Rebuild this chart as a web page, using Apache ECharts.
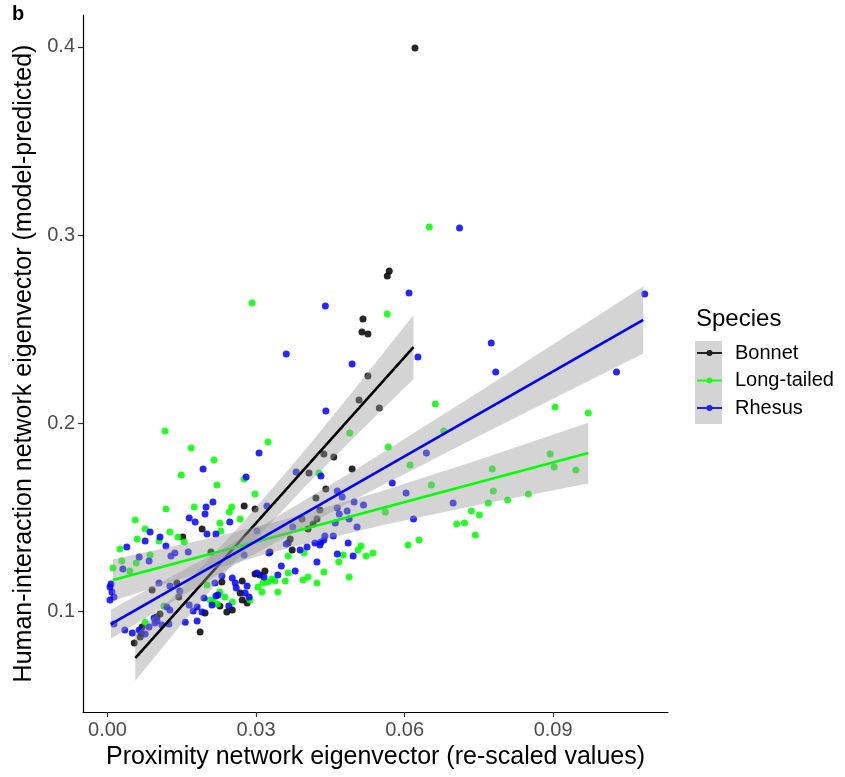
<!DOCTYPE html>
<html><head><meta charset="utf-8">
<script src="https://cdn.jsdelivr.net/npm/echarts@6/dist/echarts.min.js"></script>
<style>html,body{margin:0;padding:0;background:#fff}#c{width:845px;height:777px}</style>
</head><body><div id="c"></div><script>
// ---------- data ----------
const species = ['Bonnet', 'Long-tailed', 'Rhesus'];
const xTicks = [0, 0.03, 0.06, 0.09];
const xTickLabels = ['0.00', '0.03', '0.06', '0.09'];
const yTicks = [0.1, 0.2, 0.3, 0.4];
const yTickLabels = ['0.1', '0.2', '0.3', '0.4'];

const bonnetPts = [
[0.0621,0.3995],[0.0569,0.2809],[0.0565,0.2782],[0.0516,0.2553],[0.0514,0.2484],[0.0526,0.2473],[0.0526,0.2250],[0.0508,0.2122],[0.0549,0.2080],[0.0437,0.1835],[0.0457,0.1819],[0.0494,0.1755],[0.0407,0.1734],[0.0441,0.1649],[0.0421,0.1601],[0.0429,0.1537],[0.0423,0.1489],[0.0415,0.1463],[0.0405,0.1436],[0.0393,0.1489],[0.0276,0.1559],[0.0298,0.1543],[0.0191,0.1436],[0.0152,0.1394],[0.0209,0.1314],[0.0328,0.1314],[0.0365,0.1362],[0.0369,0.1383],[0.0373,0.1324],[0.0318,0.1213],[0.0298,0.1197],[0.0272,0.1160],[0.0231,0.1154],[0.0268,0.1096],[0.0282,0.1043],[0.0272,0.1059],[0.0252,0.1005],[0.0241,0.0995],[0.0227,0.1027],[0.0197,0.0989],[0.0187,0.0888],[0.0308,0.1191],[0.0140,0.1149],[0.0090,0.1112],[0.0144,0.1074],[0.0106,0.0984],[0.0100,0.0968],[0.0070,0.0915],[0.0068,0.0883],[0.0054,0.0830],[0.0066,0.0862]
];
const longPts = [
[0.0650,0.3043],[0.0292,0.2638],[0.0565,0.2580],[0.0116,0.1957],[0.0169,0.1867],[0.0215,0.1803],[0.0324,0.1899],[0.0149,0.1723],[0.0489,0.1947],[0.0567,0.1872],[0.0427,0.1734],[0.0276,0.1702],[0.0221,0.1670],[0.0298,0.1622],[0.0662,0.2101],[0.0904,0.2085],[0.0971,0.2053],[0.0679,0.1957],[0.0611,0.1777],[0.0777,0.1755],[0.0894,0.1835],[0.0902,0.1766],[0.0946,0.1750],[0.0654,0.1670],[0.0779,0.1638],[0.0850,0.1622],[0.0808,0.1590],[0.0769,0.1574],[0.0561,0.1527],[0.0735,0.1532],[0.0751,0.1511],[0.0705,0.1463],[0.0721,0.1468],[0.0743,0.1404],[0.0629,0.1378],[0.0607,0.1351],
[0.0118,0.1543],[0.0175,0.1553],[0.0251,0.1553],[0.0246,0.1527],[0.0056,0.1484],[0.0227,0.1468],[0.0268,0.1489],[0.0076,0.1436],[0.0229,0.1426],[0.0126,0.1420],[0.0060,0.1383],[0.0104,0.1372],[0.0142,0.1394],[0.0155,0.1367],[0.0025,0.1330],[0.0086,0.1298],[0.0029,0.1266],[0.0058,0.1255],[0.0011,0.1229],[0.0045,0.1213],[0.0076,0.0941],[0.0114,0.1027],[0.0237,0.1074],[0.0207,0.1059],
[0.0365,0.1293],[0.0397,0.1309],[0.0476,0.1298],[0.0522,0.1293],[0.0536,0.1309],[0.0506,0.1324],[0.0512,0.1346],[0.0467,0.1261],[0.0437,0.1207],[0.0405,0.1181],[0.0395,0.1165],[0.0423,0.1149],[0.0488,0.1181],[0.0365,0.1202],[0.0359,0.1160],[0.0344,0.1101],[0.0332,0.1170],[0.0324,0.1154],[0.0314,0.1149],[0.0304,0.1128],[0.0312,0.1101],[0.0288,0.1059],[0.0252,0.1048],[0.0227,0.1101],[0.0213,0.1048],[0.0201,0.1138],[0.0338,0.1160],[0.0222,0.1037]
];
const rhesusPts = [
[0.1085,0.2686],[0.0711,0.3037],[0.0609,0.2691],[0.0775,0.2426],[0.0627,0.2351],[0.0440,0.2622],[0.0361,0.2367],[0.0494,0.2314],[0.0784,0.2271],[0.1028,0.2271],[0.0441,0.2064],[0.0644,0.1840],[0.0575,0.1681],[0.0603,0.1628],[0.0698,0.1574],[0.0618,0.1489],[0.0306,0.1840],[0.0193,0.1755],[0.0280,0.1713],[0.0381,0.1739],[0.0431,0.1718],[0.0322,0.1559],[0.0302,0.1426],[0.0464,0.1638],[0.0474,0.1606],[0.0464,0.1548],[0.0484,0.1532],[0.0498,0.1580],[0.0517,0.1564],[0.0468,0.1516],[0.0488,0.1489],[0.0504,0.1447],[0.0460,0.1468],[0.0456,0.1399],[0.0439,0.1399],[0.0431,0.1367],[0.0419,0.1362],[0.0403,0.1340],[0.0486,0.1362],[0.0374,0.1447],
[0.0213,0.1580],[0.0199,0.1553],[0.0197,0.1516],[0.0165,0.1495],[0.0177,0.1473],[0.0247,0.1473],[0.0086,0.1420],[0.0106,0.1394],[0.0201,0.1410],[0.0219,0.1410],[0.0076,0.1372],[0.0118,0.1346],[0.0039,0.1340],[0.0064,0.1287],[0.0136,0.1309],[0.0128,0.1293],[0.0163,0.1314],[0.0084,0.1266],[0.0031,0.1223],[0.0276,0.1298],
[0.0005,0.1128],[0.0009,0.1101],[0.0013,0.1074],[0.0005,0.1059],[0.0007,0.1144],[0.0104,0.1149],[0.0146,0.1106],[0.0126,0.1133],[0.0252,0.1176],[0.0258,0.1149],[0.0260,0.1122],[0.0282,0.1133],[0.0278,0.1096],[0.0286,0.1074],[0.0316,0.1181],[0.0223,0.1085],[0.0165,0.1032],[0.0181,0.1021],[0.0191,0.0995],[0.0173,0.1000],[0.0120,0.1021],[0.0126,0.1005],[0.0094,0.0963],[0.0100,0.0947],[0.0035,0.0899],[0.0050,0.0883],[0.0064,0.0899],[0.0076,0.0878],[0.0013,0.0931],[0.0084,0.0915],[0.0096,0.0936],[0.0110,0.0926],[0.0124,0.0931],[0.0157,0.0941],[0.0181,0.0947],
[0.0361,0.1356],[0.0389,0.1324],[0.0429,0.1351],[0.0437,0.1378],[0.0464,0.1303],[0.0496,0.1293],[0.0423,0.1261],[0.0379,0.1213],[0.0351,0.1239],[0.0344,0.1191],[0.0302,0.1202],[0.0326,0.1309],[0.0231,0.1186],[0.0217,0.1149],[0.0219,0.1080],[0.0211,0.1032],[0.0195,0.1069],[0.0245,0.1027]
];

// fitted lines (endpoints)
const bonnetFit = [[0.0056,0.0750],[0.0618,0.2404]];
const longFit = [[0.0011,0.1165],[0.0971,0.1840]];
const rhesusFit = [[0.0007,0.0931],[0.1082,0.2548]];

// confidence ribbons: [x, lower, upper]
const bonnetBand = [[0.0056,0.0628,0.0872],[0.015,0.0932,0.1122],[0.027,0.1300,0.1460],[0.040,0.1665,0.1859],[0.050,0.1930,0.2184],[0.0618,0.2234,0.2574]];
const longBand = [[0.0011,0.1055,0.1275],[0.020,0.1213,0.1383],[0.035,0.1325,0.1481],[0.055,0.1454,0.1634],[0.075,0.1565,0.1805],[0.0971,0.1678,0.2002]];
const rhesusBand = [[0.0007,0.0854,0.1008],[0.025,0.1236,0.1356],[0.050,0.1594,0.1750],[0.075,0.1931,0.2165],[0.1082,0.2370,0.2726]];

// ---------- chart ----------
const FONT = 'Liberation Sans, Arial, sans-serif';
const colors = ['#000000', '#00ff00', '#0000ff'];
const pts = [bonnetPts, longPts, rhesusPts];
const fits = [bonnetFit, longFit, rhesusFit];
const bands = [bonnetBand, longBand, rhesusBand];

function bandSeries(name, band, z) {
  return {
    type: 'custom', name: name, z: z, silent: true,
    data: band,
    encode: { x: 0, y: [1, 2] },
    renderItem: function (params, api) {
      if (params.dataIndex !== 0) return null;
      const p = [];
      for (let i = 0; i < band.length; i++) p.push(api.coord([band[i][0], band[i][2]]));
      for (let i = band.length - 1; i >= 0; i--) p.push(api.coord([band[i][0], band[i][1]]));
      return { type: 'polygon', shape: { points: p }, style: { fill: 'rgba(153,153,153,0.42)' } };
    }
  };
}

const series = [];
species.forEach(function (s, i) {
  series.push({
    type: 'scatter', name: s, data: pts[i], symbolSize: 7, z: 2, silent: true,
    itemStyle: { color: colors[i], opacity: 0.85 }
  });
});
species.forEach(function (s, i) {
  series.push(bandSeries(s, bands[i], 3 + i * 2));
  series.push({
    type: 'line', name: s, data: fits[i], showSymbol: false, z: 4 + i * 2, silent: true,
    lineStyle: { color: colors[i], width: 2.6 }, itemStyle: { color: colors[i] }
  });
});

const keyIcon = 'path://M0,2 L25,2 L25,4 L0,4 Z M9.5,3 A3,3 0 1 1 15.5,3 A3,3 0 1 1 9.5,3 Z';

const chart = echarts.init(document.getElementById('c'), null, { renderer: 'canvas' });
chart.setOption({
  animation: false,
  backgroundColor: '#ffffff',
  textStyle: { fontFamily: FONT },
  title: [
    { text: 'b', left: 12, top: 4, padding: 0, textStyle: { fontSize: 20, fontWeight: 'bold', color: '#000', fontFamily: FONT } },
    { text: 'Species', left: 696, top: 307, padding: 0, textStyle: { fontSize: 24, fontWeight: 'normal', color: '#000', fontFamily: FONT } }
  ],
  graphic: [
    { type: 'rect', left: 695, top: 341, shape: { width: 27, height: 83 }, style: { fill: '#d4d4d4' }, z: 1 }
  ],
  legend: {
    show: true, orient: 'vertical', left: 697, top: 343, padding: 0,
    itemWidth: 25, itemHeight: 6, itemGap: 7.5, selectedMode: false,
    data: species.map(function (s, i) { return { name: s, icon: keyIcon, itemStyle: { color: colors[i] } }; }),
    textStyle: { fontSize: 20, color: '#000', fontFamily: FONT, lineHeight: 20, padding: [0, 0, 0, 8] }
  },
  grid: { left: 83, right: 177, top: 15, bottom: 65, containLabel: false },
  xAxis: {
    type: 'value', min: -0.00495, max: 0.1132,
    name: 'Proximity network eigenvector (re-scaled values)',
    nameLocation: 'middle', nameGap: 32,
    nameTextStyle: { fontSize: 25, color: '#000', fontFamily: FONT },
    axisLine: { show: true, onZero: false, lineStyle: { color: '#000', width: 1.2 } },
    axisTick: { show: true, length: 5, customValues: xTicks, lineStyle: { color: '#333', width: 1.2 } },
    axisLabel: {
      customValues: xTicks, fontSize: 20, color: '#4d4d4d', margin: 8, fontFamily: FONT,
      formatter: function (v) { let k = 0; xTicks.forEach(function (t, j) { if (Math.abs(t - v) < Math.abs(xTicks[k] - v)) k = j; }); return xTickLabels[k]; }
    },
    splitLine: { show: false }
  },
  yAxis: {
    type: 'value', min: 0.0463, max: 0.417,
    name: 'Human-interaction network eigenvector (model-predicted)',
    nameLocation: 'middle', nameGap: 42,
    nameTextStyle: { fontSize: 25, color: '#000', fontFamily: FONT },
    axisLine: { show: true, onZero: false, lineStyle: { color: '#000', width: 1.2 } },
    axisTick: { show: true, length: 5, customValues: yTicks, lineStyle: { color: '#333', width: 1.2 } },
    axisLabel: {
      customValues: yTicks, fontSize: 20, color: '#4d4d4d', margin: 8, fontFamily: FONT,
      formatter: function (v) { let k = 0; yTicks.forEach(function (t, j) { if (Math.abs(t - v) < Math.abs(yTicks[k] - v)) k = j; }); return yTickLabels[k]; }
    },
    splitLine: { show: false }
  },
  series: series
});
</script></body></html>
